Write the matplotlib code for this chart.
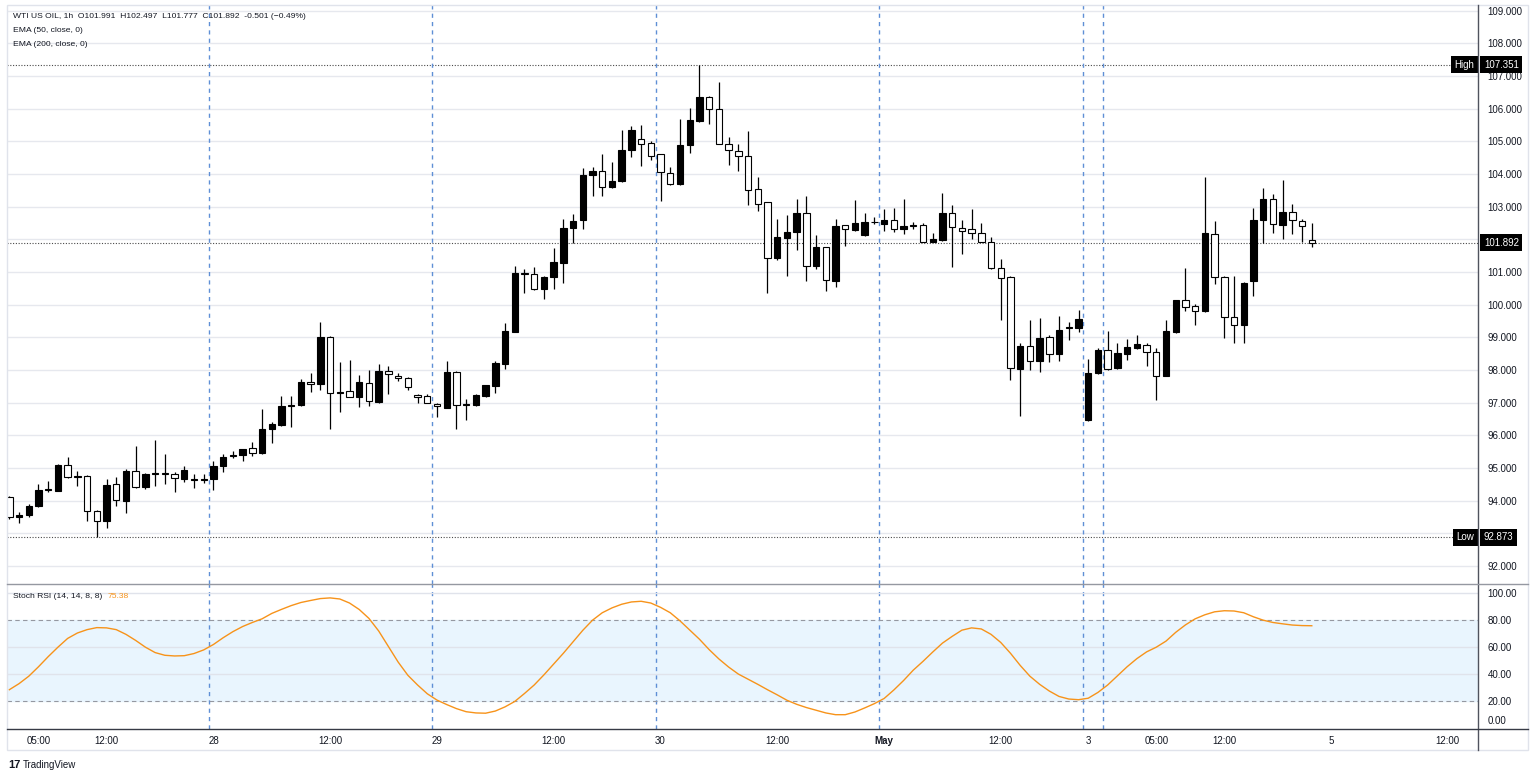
import matplotlib
matplotlib.use("Agg")
import matplotlib.pyplot as plt
import numpy as np
from matplotlib.patches import Rectangle
from matplotlib.lines import Line2D
from matplotlib.transforms import blended_transform_factory

plt.rcParams['font.family'] = ['Liberation Sans', 'DejaVu Sans']

# hourly candles, WTI US OIL
opens = [
    94.12, 93.49, 93.55, 93.82, 94.31, 94.30, 95.09, 94.73, 94.74, 93.69,
    93.37, 94.50, 94.00, 94.92, 94.43, 94.82, 94.86, 94.81, 94.66, 94.63,
    94.64, 94.65, 95.06, 95.36, 95.40, 95.62, 95.45, 96.19, 96.30, 96.89,
    96.92, 97.64, 97.56, 99.01, 97.30, 97.35, 97.18, 97.59, 97.01, 97.98,
    97.82, 97.76, 97.24, 97.20, 96.97, 96.84, 97.94, 96.94, 96.92, 97.20,
    97.51, 98.18, 99.17, 100.98, 100.93, 100.47, 100.85, 101.27, 102.34, 102.58,
    103.96, 104.09, 103.60, 103.78, 104.73, 105.08, 104.96, 104.60, 104.03, 103.68,
    104.90, 105.62, 106.36, 105.98, 104.92, 104.70, 104.55, 103.54, 103.13, 101.43,
    102.04, 102.22, 102.80, 101.19, 101.76, 100.71, 102.43, 102.30, 102.12, 102.52,
    102.48, 102.60, 102.31, 102.42, 102.44, 101.93, 101.97, 102.82, 102.34, 102.31,
    102.20, 101.93, 101.13, 100.85, 98.04, 98.73, 98.28, 99.01, 98.50, 99.29,
    99.28, 96.47, 97.90, 98.60, 98.06, 98.49, 98.67, 98.77, 98.55, 97.82,
    99.15, 100.15, 99.97, 99.79, 102.17, 100.85, 99.62, 99.38, 100.71, 102.58,
    103.23, 102.44, 102.85, 102.56, 101.991,
]
highs = [
    94.15, 93.64, 93.90, 94.50, 94.61, 95.11, 95.34, 94.92, 94.77, 93.72,
    94.66, 94.72, 94.97, 95.68, 94.85, 95.87, 95.42, 94.89, 95.06, 94.80,
    94.80, 95.20, 95.42, 95.53, 95.58, 95.79, 96.81, 96.40, 97.21, 97.21,
    97.72, 97.90, 99.48, 99.03, 98.25, 98.30, 97.84, 98.00, 98.18, 98.13,
    97.90, 97.77, 97.26, 97.25, 97.00, 98.28, 97.96, 97.10, 97.25, 97.55,
    98.26, 99.43, 101.17, 101.10, 101.15, 100.87, 101.73, 102.63, 102.78, 104.17,
    104.21, 104.60, 104.37, 105.36, 105.47, 105.49, 105.01, 104.62, 104.22, 105.67,
    106.01, 107.351, 106.38, 106.83, 105.14, 104.93, 105.32, 103.90, 103.15, 102.63,
    102.76, 103.22, 103.32, 102.13, 101.78, 102.63, 102.45, 103.20, 102.80, 102.69,
    102.92, 102.96, 103.23, 102.53, 102.51, 102.20, 103.41, 103.04, 102.58, 102.94,
    102.51, 102.08, 101.41, 100.89, 98.82, 99.54, 99.59, 99.08, 99.66, 99.46,
    99.85, 98.34, 98.67, 99.18, 98.82, 98.96, 99.07, 98.82, 98.67, 99.53,
    100.15, 101.13, 100.03, 103.90, 102.56, 100.89, 100.89, 100.68, 102.95, 103.57,
    103.38, 103.82, 103.08, 102.61, 102.497,
]
lows = [
    93.45, 93.30, 93.49, 93.80, 94.27, 94.29, 94.69, 94.45, 93.37, 92.873,
    93.17, 93.82, 93.63, 94.40, 94.35, 94.46, 94.51, 94.25, 94.56, 94.38,
    94.55, 94.33, 94.89, 95.30, 95.22, 95.38, 95.43, 95.76, 96.28, 96.25,
    96.90, 97.31, 97.38, 96.18, 96.70, 97.16, 96.87, 96.90, 96.98, 97.25,
    97.67, 97.38, 96.98, 96.98, 96.57, 96.82, 96.18, 96.48, 96.90, 97.18,
    97.28, 98.02, 99.15, 100.37, 100.45, 100.18, 100.47, 100.66, 101.88, 102.32,
    103.34, 103.32, 103.57, 103.76, 104.52, 104.26, 104.44, 103.17, 103.66, 103.66,
    104.65, 105.60, 105.52, 104.91, 104.27, 104.09, 103.04, 102.86, 100.35, 101.38,
    100.87, 101.68, 100.71, 101.09, 100.43, 100.53, 101.81, 102.25, 102.09, 102.46,
    102.25, 102.22, 102.15, 102.33, 101.92, 101.91, 101.95, 101.16, 101.56, 102.00,
    101.91, 101.08, 99.52, 97.70, 96.59, 98.00, 97.95, 98.24, 98.26, 98.91,
    99.15, 96.45, 97.88, 98.00, 98.04, 98.31, 98.65, 98.11, 97.08, 97.80,
    99.13, 99.82, 99.37, 99.77, 100.63, 98.97, 98.82, 98.82, 100.25, 101.90,
    102.20, 102.00, 102.15, 101.93, 101.777,
]
closes = [
    93.49, 93.56, 93.84, 94.31, 94.34, 95.08, 94.73, 94.76, 93.67, 93.37,
    94.47, 94.01, 94.91, 94.42, 94.82, 94.86, 94.81, 94.69, 94.94, 94.66,
    94.66, 95.06, 95.35, 95.39, 95.57, 95.47, 96.20, 96.34, 96.89, 96.92,
    97.64, 97.56, 99.01, 97.28, 97.34, 97.18, 97.62, 97.04, 97.97, 97.87,
    97.74, 97.49, 97.17, 97.00, 96.90, 97.94, 96.94, 96.96, 97.22, 97.54,
    98.20, 99.19, 100.98, 100.93, 100.47, 100.85, 101.31, 102.36, 102.55, 103.96,
    104.09, 103.60, 103.78, 104.72, 105.36, 104.92, 104.55, 104.07, 103.68, 104.90,
    105.65, 106.36, 105.98, 104.93, 104.73, 104.55, 103.51, 103.09, 101.43, 102.07,
    102.21, 102.80, 101.19, 101.76, 100.74, 102.42, 102.32, 102.50, 102.52, 102.54,
    102.60, 102.32, 102.40, 102.45, 101.93, 102.00, 102.82, 102.39, 102.27, 102.20,
    101.93, 101.13, 100.81, 98.06, 98.72, 98.26, 98.98, 98.49, 99.23, 99.32,
    99.56, 97.90, 98.62, 98.03, 98.52, 98.69, 98.79, 98.55, 97.80, 99.19,
    100.13, 99.94, 99.82, 102.18, 100.85, 99.62, 99.37, 100.66, 102.58, 103.23,
    102.46, 102.85, 102.58, 102.41, 101.892,
]

# Stoch RSI (14, 14, 8, 8), one reading per bar
stoch_rsi = [
    28, 32.5, 38, 45, 52.5, 59.5, 66, 70, 72.5, 74,
    73.8, 72.5, 69, 64.5, 59.5, 55.5, 53.5, 53, 53.2, 54.8,
    57.5, 61.5, 66.5, 71, 74.8, 77.8, 80.5, 84.5, 87.5, 90.3,
    92.6, 94.1, 95.5, 96, 95.2, 92.2, 87.4, 80.8, 71.5, 60,
    48.5, 38.7, 31.5, 25, 20.3, 17, 14, 11.7, 10.8, 10.6,
    12.2, 15.3, 19.3, 25.2, 31.5, 39, 47, 55, 63.5, 72,
    79.5, 85, 88.6, 91.3, 93, 93.5, 92.2, 89, 85, 79,
    72.2, 65.4, 57.7, 50.8, 44.8, 39.6, 35.8, 32, 28, 24.2,
    20.2, 17.2, 14.8, 12.8, 10.8, 9.5, 9.5, 11.5, 14.5, 17.7,
    21.5, 27.8, 34.8, 42.5, 49, 55.9, 62.5, 67.5, 72.1, 73.8,
    73, 69, 63, 55, 46, 38, 32, 27, 23, 21.1,
    20.6, 21.7, 26, 31.5, 38.2, 45, 51, 56, 59.5, 64,
    70.5, 76, 80.5, 83.5, 85.7, 86.5, 86.3, 85, 82, 79.5,
    77.8, 76.8, 75.9, 75.5, 75.38,
]

price_ticks = list(range(92, 110))
stoch_ticks = [20, 40, 60, 80, 100]
session_breaks = [20.5, 43.5, 66.5, 89.5, 110.5, 112.5]
time_tick_idx = [3, 10, 21, 33, 44, 56, 67, 79, 90, 102, 111, 118, 125, 136, 148]
time_tick_labels = ["05:00", "12:00", "28", "12:00", "29", "12:00", "30", "12:00",
                    "May", "12:00", "3", "05:00", "12:00", "5", "12:00"]

high_val = 107.351
low_val = 92.873
last_val = 101.892

W, H = 1536, 778
fig = plt.figure(figsize=(W / 100, H / 100), dpi=100)
fig.patch.set_facecolor("white")

ax = fig.add_axes([7 / W, 1 - 584 / H, (1478 - 7) / W, (584 - 5) / H])
ax2 = fig.add_axes([7 / W, 1 - 729 / H, (1478 - 7) / W, (729 - 584) / H], sharex=ax)

x = np.arange(len(opens))
o = np.array(opens)
c = np.array(closes)
up = c >= o

ax.vlines(x, lows, highs, color="black", lw=0.9, zorder=2)
ax.bar(x, np.abs(c - o), bottom=np.minimum(o, c), width=0.66,
       color=np.where(up, "black", "white"), edgecolor="black", linewidth=0.8, zorder=3)

ax.set_xlim(-0.24, 151.1)
ax.set_ylim(91.446, 109.175)
ax.set_yticks(price_ticks)
# the 102 label sits under the last-price tag
ax.set_yticklabels(["" if p == 102 else f"{p:.3f}" for p in price_ticks])
ax.yaxis.tick_right()
ax.tick_params(axis="y", length=0, pad=7, labelsize=7, colors="#131722")
ax.tick_params(axis="x", length=0, labelbottom=False)
ax.grid(axis="y", color="#E6E8EE", lw=1, zorder=0)
ax.set_axisbelow(True)

for v in (high_val, low_val, last_val):
    ax.axhline(v, color="#4A4A4A", lw=0.8, ls=(0, (1, 1.5)), zorder=1)

for b in session_breaks:
    ax.axvline(b, color="#5F8FD6", lw=1.0, ls=(0, (3, 3)), zorder=1, snap=True)
    ax2.axvline(b, color="#5F8FD6", lw=1.0, ls=(0, (3, 3)), zorder=1, snap=True)

for s in ax.spines.values():
    s.set_visible(False)
for s in ax2.spines.values():
    s.set_visible(False)

trans = blended_transform_factory(ax.transAxes, ax.transData)
box = dict(boxstyle="square,pad=0.35", fc="black", ec="none")
for v, tag in ((high_val, "High"), (low_val, "Low"), (last_val, None)):
    ax.text(1.004, v, f"{v:.3f}", transform=trans, ha="left", va="center",
            color="white", fontsize=7, bbox=box, clip_on=False, zorder=10)
    if tag:
        ax.text(0.9975, v, tag, transform=trans, ha="right", va="center",
                color="white", fontsize=7, bbox=box, clip_on=False, zorder=10)

# Stoch RSI pane
ax2.axhspan(20, 80, color="#E9F5FE", zorder=0)
ax2.plot(np.arange(len(stoch_rsi)), stoch_rsi, color="#F7931A", lw=1.0, zorder=4)
for lv in (20, 80):
    ax2.axhline(lv, color="#9598A1", lw=0.8, ls=(0, (4, 3)), zorder=2)
for lv in (40, 60, 100):
    ax2.axhline(lv, color="#E0E3EB", lw=1, zorder=1)
ax2.set_ylim(-1.1, 106.3)
ax2.set_yticks(stoch_ticks)
ax2.set_yticklabels([f"{v:.2f}" for v in stoch_ticks])
ax2.yaxis.tick_right()
ax2.tick_params(axis="y", length=0, pad=7, labelsize=7, colors="#131722")
trans2 = blended_transform_factory(ax2.transAxes, ax2.transData)
ax2.annotate("0.00", xy=(1, 0), xycoords=trans2, xytext=(7, 4.5),
             textcoords="offset points", ha="left", va="center",
             fontsize=7, color="#131722", annotation_clip=False)
ax2.set_xticks(time_tick_idx)
ax2.set_xticklabels(time_tick_labels)
ax2.tick_params(axis="x", length=0, pad=5, labelsize=7, colors="#131722")
for lbl in ax2.get_xticklabels():
    if lbl.get_text() == "May":
        lbl.set_fontweight("bold")

# frame lines
fig.add_artist(Rectangle((7 / W, 1 - 750 / H), (1528 - 7) / W, (750 - 5) / H,
                         transform=fig.transFigure, fill=False, ec="#E0E3EB", lw=1))
fig.add_artist(Line2D([1478 / W, 1478 / W], [1 - 750 / H, 1 - 5 / H],
                      transform=fig.transFigure, color="#50535E", lw=1))
fig.add_artist(Line2D([7 / W, 1528 / W], [1 - 584 / H, 1 - 584 / H],
                      transform=fig.transFigure, color="#9598A1", lw=1))
fig.add_artist(Line2D([7 / W, 1528 / W], [1 - 729 / H, 1 - 729 / H],
                      transform=fig.transFigure, color="#363A45", lw=1))

# legends
fig.text(13 / W, 1 - 17 / H,
         "WTI US OIL, 1h  O101.991  H102.497  L101.777  C101.892  -0.501 (\u22120.49%)",
         fontsize=6.1, color="#131722", va="center")
fig.text(13 / W, 1 - 31 / H, "EMA (50, close, 0)", fontsize=6.1, color="#131722", va="center")
fig.text(13 / W, 1 - 44 / H, "EMA (200, close, 0)", fontsize=6.1, color="#131722", va="center")
fig.text(13 / W, 1 - 596 / H, "Stoch RSI (14, 14, 8, 8)", fontsize=6.1, color="#131722", va="center")
fig.text(108 / W, 1 - 596 / H, "75.38", fontsize=6.1, color="#F7931A", va="center")

fig.text(8 / W, 1 - 765 / H, "17", fontsize=8, fontweight="heavy", color="#131722", va="center")
fig.text(23 / W, 1 - 765 / H, "TradingView", fontsize=7, color="#131722", va="center")

fig.savefig("out.png", dpi=100)
